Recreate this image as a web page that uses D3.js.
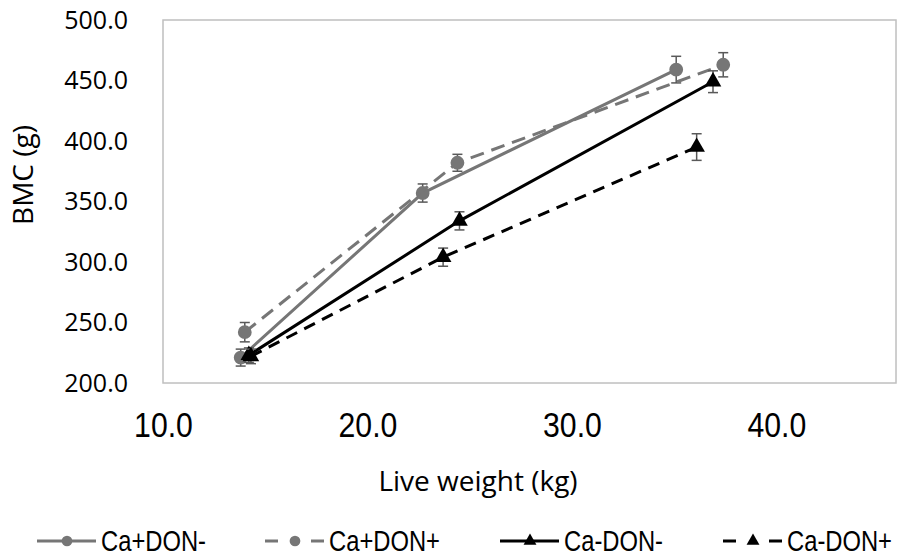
<!DOCTYPE html>
<html>
<head>
<meta charset="utf-8">
<script src="https://cdn.jsdelivr.net/npm/d3@7"></script>
<style>
  body { margin: 0; background: #fff; }
</style>
</head>
<body>
<div id="chart"></div>
<script>
// data
const series = ["Ca+DON-", "Ca+DON+", "Ca-DON-", "Ca-DON+"];
const weightCaDONm = [13.8, 22.7, 35.1];
const bmcCaDONm    = [221, 357, 459];
const errCaDONm    = [7, 7.5, 11];
const weightCaDONp = [14.0, 24.4, 37.4];
const bmcCaDONp    = [242, 382, 463];
const errCaDONp    = [8, 7, 10];
const weightCamDONm = [14.2, 24.5, 36.9];
const bmcCamDONm    = [223, 334, 449];
const errCamDONm    = [6, 7.5, 9];
const weightCamDONp = [14.3, 23.7, 36.1];
const bmcCamDONp    = [222, 304, 395];
const errCamDONp    = [6, 7.5, 11];
const xTicks = [10, 20, 30, 40];
const yTicks = [200, 250, 300, 350, 400, 450, 500];

const W = 909, H = 559;
const margin = {top: 20, right: 13, bottom: 176, left: 163},
    width = W - margin.left - margin.right,
    height = H - margin.top - margin.bottom;

const svg = d3.select("#chart")
  .append("svg")
    .attr("width", W)
    .attr("height", H);

const g = svg.append("g")
    .attr("transform", `translate(${margin.left},${margin.top})`);

const x = d3.scaleLinear().domain([10, 45.85]).range([0, width]);
const y = d3.scaleLinear().domain([200, 500]).range([height, 0]);

// plot frame
g.append("rect")
  .attr("width", width)
  .attr("height", height)
  .attr("fill", "none")
  .attr("stroke", "#bfbfbf")
  .attr("stroke-width", 1.5);

// axes (labels only, no tick marks)
const xAxis = g.append("g")
  .attr("transform", `translate(0,${height})`)
  .call(d3.axisBottom(x).tickValues(xTicks).tickFormat(d3.format(".1f")).tickSize(0).tickPadding(28));
xAxis.select(".domain").remove();
xAxis.selectAll("text")
  .attr("transform", "scale(0.84,1)")
  .style("font-family", "'Liberation Sans', sans-serif")
  .style("font-size", "36px")
  .attr("fill", "#000");

const yAxis = g.append("g")
  .call(d3.axisLeft(y).tickValues(yTicks).tickFormat(d3.format(".1f")).tickSize(0).tickPadding(35));
yAxis.select(".domain").remove();
yAxis.selectAll("text")
  .style("font-family", "'Open Sans', sans-serif")
  .style("font-size", "25px")
  .attr("fill", "#000");

svg.append("text")
  .attr("x", 478)
  .attr("y", 491)
  .style("text-anchor", "middle")
  .style("font-family", "'Open Sans', sans-serif")
  .style("font-size", "28px")
  .text("Live weight (kg)");

svg.append("text")
  .attr("transform", "rotate(-90)")
  .attr("x", -175)
  .attr("y", 33)
  .style("text-anchor", "middle")
  .style("font-family", "'Open Sans', sans-serif")
  .style("font-size", "28px")
  .text("BMC (g)");

const styles = [
  {w: weightCaDONm, v: bmcCaDONm, e: errCaDONm, color: "#767676", dash: null, sym: d3.symbolCircle, size: 150},
  {w: weightCaDONp, v: bmcCaDONp, e: errCaDONp, color: "#767676", dash: "14,8", sym: d3.symbolCircle, size: 150},
  {w: weightCamDONm, v: bmcCamDONm, e: errCamDONm, color: "#000", dash: null, sym: d3.symbolTriangle, size: 120},
  {w: weightCamDONp, v: bmcCamDONp, e: errCamDONp, color: "#000", dash: "12,8", sym: d3.symbolTriangle, size: 120}
];

const line = d3.line()
  .x(function(d) { return x(d.w) })
  .y(function(d) { return y(d.v) });

styles.forEach(function(s) {
  const data = s.w.map(function(w, i) { return {w: w, v: s.v[i], e: s.e[i]} });

  g.append("path")
    .datum(data)
    .attr("fill", "none")
    .attr("stroke", s.color)
    .attr("stroke-width", 3)
    .attr("stroke-dasharray", s.dash)
    .attr("d", line);

  // error bars
  const eb = g.selectAll(null).data(data).enter().append("g")
    .attr("stroke", "#595959")
    .attr("stroke-width", 1.5);
  eb.append("line")
    .attr("x1", function(d) { return x(d.w) })
    .attr("x2", function(d) { return x(d.w) })
    .attr("y1", function(d) { return y(d.v - d.e) })
    .attr("y2", function(d) { return y(d.v + d.e) });
  [-1, 1].forEach(function(k) {
    eb.append("line")
      .attr("x1", function(d) { return x(d.w) - 5 })
      .attr("x2", function(d) { return x(d.w) + 5 })
      .attr("y1", function(d) { return y(d.v + k * d.e) })
      .attr("y2", function(d) { return y(d.v + k * d.e) });
  });

  g.selectAll(null).data(data).enter().append("path")
    .attr("transform", function(d) { return `translate(${x(d.w)},${y(d.v)})` })
    .attr("d", d3.symbol().type(s.sym).size(s.size))
    .attr("fill", s.color);
});

// legend
const legendX = [37, 265, 500, 723];
const legend = svg.selectAll(".leg").data(styles).enter().append("g")
  .attr("transform", function(d, i) { return `translate(${legendX[i]},541)` });
legend.append("line")
  .attr("x1", 0).attr("x2", 59)
  .attr("stroke", function(d) { return d.color })
  .attr("stroke-width", 3)
  .attr("stroke-dasharray", function(d) { return d.dash ? "13,33,13" : null });
legend.append("path")
  .attr("transform", "translate(30,0)")
  .attr("d", function(d) { return d3.symbol().type(d.sym).size(d.size * 0.6)() })
  .attr("fill", function(d) { return d.color });
legend.append("text")
  .attr("transform", "translate(64,0) scale(0.82,1)")
  .attr("dy", "0.35em")
  .style("font-family", "'Liberation Sans', sans-serif")
  .style("font-size", "29px")
  .text(function(d, i) { return series[i] });
</script>
</body>
</html>
